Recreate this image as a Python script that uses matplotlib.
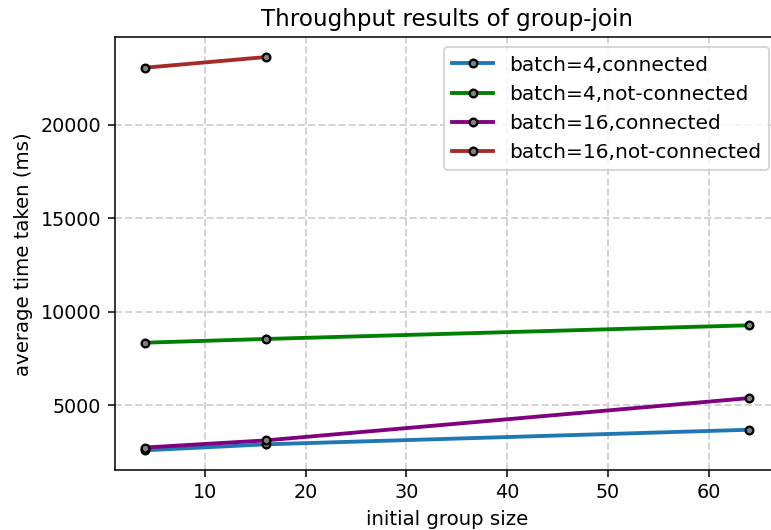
import matplotlib
matplotlib.use("Agg")
import matplotlib.pyplot as plt

group_sizes = [4, 16, 64]
b4_connected = [2600, 2920, 3700]
b4_not_connected = [8350, 8550, 9280]
b16_connected = [2750, 3130, 5390]
b16_not_connected_x = [4, 16]
b16_not_connected = [23040, 23610]

labels = ["batch=4,connected", "batch=4,not-connected",
          "batch=16,connected", "batch=16,not-connected"]
colors = ["#1f77b4", "green", "purple", "brown"]

dpi = 138
fig = plt.figure(figsize=(771 / dpi, 530 / dpi), dpi=dpi)
ax = fig.add_axes([114.5 / 771, 1 - 470 / 530, (779 - 114.5) / 771, (470 - 37.4) / 530])

series = [(group_sizes, b4_connected), (group_sizes, b4_not_connected),
          (group_sizes, b16_connected), (b16_not_connected_x, b16_not_connected)]
for (xs, ys), lab, c in zip(series, labels, colors):
    ax.plot(xs, ys, color=c, linewidth=2, marker='o', markersize=4,
            markerfacecolor='gray', markeredgecolor='black', markeredgewidth=1.2,
            label=lab)

ax.grid(True, linestyle='--', color='lightgray', linewidth=1)
ax.set_axisbelow(True)
ax.set_title("Throughput results of group-join")
ax.set_xlabel("initial group size", fontsize=10.3)
ax.set_ylabel("average time taken (ms)", fontsize=10.3)
ax.legend(loc='upper right', fontsize=10.5)

fig.savefig("out.png", dpi=dpi)
